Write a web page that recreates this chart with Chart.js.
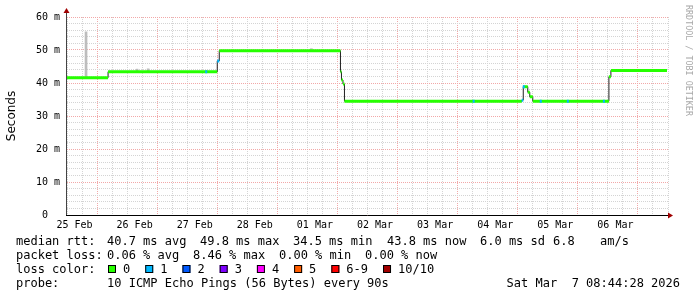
<!DOCTYPE html>
<html>
<head>
<meta charset="utf-8">
<title>smokeping 10 days</title>
<script src="https://cdn.jsdelivr.net/npm/chart.js@4.4.1/dist/chart.umd.min.js"></script>
<style>
    html, body { margin: 0; padding: 0; background: #fff; }
    #wrap { width: 697px; height: 297px; }
</style>
</head>
<body>
<div id="wrap"><canvas id="ping" width="697" height="297"></canvas></div>
<script>
// x values are hours since 25 Feb 00:00, day labels sit at noon
const dayLabels = ['25 Feb', '26 Feb', '27 Feb', '28 Feb', '01 Mar', '02 Mar', '03 Mar', '04 Mar', '05 Mar', '06 Mar'];
const xMin = 9;
const xMax = 249;

// median rtt as steps: hour where a value starts, value in ms, loss count
const stepHours = [9, 25.4, 69.0, 69.8, 118.2, 118.6, 119.2, 119.8, 190.6, 191.2, 193.0, 193.8, 195.0, 225.4, 226.2, 248.6];
const stepMs    = [41.6, 43.4, 46.7, 49.8, 43.4, 40.9, 39.7, 34.5, 34.8, 38.9, 37.2, 35.8, 34.5, 41.9, 43.8, 43.8];
const stepLoss  = [0, 0, 1, 0, 0, 0, 0, 0, 1, 0, 0, 0, 0, 0, 0, 0];

// single samples with 1 lost ping
const spotHours = [64.6, 171.4, 191.4, 198.2, 209.0, 223.4];
const spotMs    = [43.4, 34.5, 38.9, 34.5, 34.5, 34.5];

// smoke (min..max of the pings)
const smokeHours = [16.6, 37.0, 41.4, 106.6];
const smokeLow   = [41.6, 43.4, 43.4, 49.8];
const smokeHigh  = [55.5, 44.2, 44.3, 50.4];

// legend
const lossColors = ['#26ff00', '#00b8ff', '#0059ff', '#7e00ff', '#ff00ff', '#ff5e00', '#ff0000', '#a10000'];
const lossLabels = ['0', '1', '2', '3', '4', '5', '6-9', '10/10'];
const rttStats  = ['40.7 ms avg', '49.8 ms max', '34.5 ms min', '43.8 ms now', '6.0 ms sd', '6.8', 'am/s'];
const lossStats = ['0.06 % avg', '8.46 % max', '0.00 % min', '0.00 % now'];
const probeText = '10 ICMP Echo Pings (56 Bytes) every 90s';
const stampText = 'Sat Mar  7 08:44:28 2026';

const MONO = '"DejaVu Sans Mono", monospace';

// build the loss coloured band for one loss level
function bandData(level) {
    const out = [];
    for (let i = 0; i < stepHours.length - 1; i++) {
        if (stepLoss[i] !== level) continue;
        out.push({ x: stepHours[i], y: stepMs[i] });
        out.push({ x: stepHours[i + 1], y: stepMs[i] });
        out.push({ x: stepHours[i + 1], y: null });
    }
    if (level === 1) {
        spotHours.forEach((h, i) => {
            out.push({ x: h - 0.4, y: spotMs[i] });
            out.push({ x: h + 0.4, y: spotMs[i] });
            out.push({ x: h + 0.4, y: null });
        });
    }
    return out;
}

// draws axes arrows, watermark and the text block below the graph
const decor = {
    id: 'decor',
    afterDraw(chart) {
        const ctx = chart.ctx;
        const a = chart.chartArea;
        ctx.save();

        // axis lines
        ctx.lineWidth = 1;
        ctx.strokeStyle = '#444';
        ctx.beginPath();
        ctx.moveTo(a.left - 0.5, a.bottom);
        ctx.lineTo(a.left - 0.5, 12);
        ctx.stroke();
        ctx.strokeStyle = '#000';
        ctx.beginPath();
        ctx.moveTo(a.left - 1, a.bottom + 0.5);
        ctx.lineTo(a.right + 1, a.bottom + 0.5);
        ctx.stroke();

        // arrows
        ctx.fillStyle = '#a00000';
        ctx.beginPath();
        ctx.moveTo(a.left - 0.5, 8);
        ctx.lineTo(a.left - 3.5, 13);
        ctx.lineTo(a.left + 2.5, 13);
        ctx.closePath();
        ctx.fill();
        ctx.beginPath();
        ctx.moveTo(a.right + 5, a.bottom + 0.5);
        ctx.lineTo(a.right, a.bottom - 2.5);
        ctx.lineTo(a.right, a.bottom + 3.5);
        ctx.closePath();
        ctx.fill();

        // watermark
        ctx.save();
        ctx.translate(688, 5);
        ctx.rotate(Math.PI / 2);
        ctx.font = '8.4px ' + MONO;
        ctx.fillStyle = '#a8a8a8';
        ctx.textAlign = 'left';
        ctx.textBaseline = 'middle';
        ctx.fillText('RRDTOOL / TOBI OETIKER', 0, 0);
        ctx.restore();

        // text rows
        ctx.font = '12px ' + MONO;
        ctx.fillStyle = '#000';
        ctx.textBaseline = 'alphabetic';
        ctx.textAlign = 'left';
        const col = 107;

        ctx.fillText('median rtt:', 16, 245);
        const rttX = [col, 200, 293, 387, 480, 553, 600];
        rttStats.forEach((t, i) => ctx.fillText(t, rttX[i], 245));

        ctx.fillText('packet loss:', 16, 259);
        const lossX = [col, 193, 279, 365];
        lossStats.forEach((t, i) => ctx.fillText(t, lossX[i], 259));

        ctx.fillText('loss color:', 16, 273);
        let x = 108;
        lossLabels.forEach((t, i) => {
            ctx.fillStyle = lossColors[i];
            ctx.fillRect(x, 265, 8, 8);
            ctx.strokeStyle = '#000';
            ctx.strokeRect(x + 0.5, 265.5, 7, 7);
            ctx.fillStyle = '#000';
            ctx.fillText(t, x + 15, 273);
            x += 15 + ctx.measureText(t).width + 15;
        });

        ctx.fillText('probe:', 16, 287);
        ctx.fillText(probeText, col, 287);
        ctx.textAlign = 'right';
        ctx.fillText(stampText, 680, 287);

        ctx.restore();
    }
};

const ctx = document.getElementById('ping').getContext('2d');
const chart = new Chart(ctx, {
    type: 'line',
    data: {
        datasets: [
            {
                label: '1/10',
                data: bandData(1),
                borderColor: lossColors[1],
                borderWidth: 3,
                borderCapStyle: 'butt',
                spanGaps: false,
                pointRadius: 0,
                order: 0
            },
            {
                label: '0/10',
                data: bandData(0),
                borderColor: lossColors[0],
                borderWidth: 3,
                borderCapStyle: 'butt',
                spanGaps: false,
                pointRadius: 0,
                order: 1
            },
            {
                label: 'median',
                data: stepHours.map((h, i) => ({ x: h, y: stepMs[i] })),
                borderColor: '#202020',
                borderWidth: 1,
                stepped: true,
                pointRadius: 0,
                order: 2
            },
            {
                type: 'bar',
                label: 'smoke',
                data: smokeHours.map((h, i) => ({ x: h, y: [smokeLow[i], smokeHigh[i]] })),
                backgroundColor: '#bdbdbd',
                barThickness: 2,
                order: 3
            }
        ]
    },
    options: {
        responsive: false,
        animation: false,
        devicePixelRatio: 1,
        layout: { padding: { left: 0, top: 17, right: 29, bottom: 0 } },
        plugins: {
            legend: { display: false },
            tooltip: { enabled: false }
        },
        scales: {
            x: {
                type: 'linear',
                min: xMin,
                max: xMax,
                offset: false,
                afterFit: s => { s.height = 82; },
                afterBuildTicks: s => {
                    const t = [];
                    for (let h = 12; h < xMax; h += 6) t.push({ value: h });
                    s.ticks = t;
                },
                grid: {
                    drawTicks: false,
                    color: c => (c.tick && c.tick.value % 24 === 0) ? '#f2a8a8' : '#d4d4d4'
                },
                border: { display: false, dash: [1, 1] },
                ticks: {
                    autoSkip: false,
                    maxRotation: 0,
                    padding: 4,
                    color: '#000',
                    font: { family: MONO, size: 10 },
                    callback: v => (v % 24 === 12) ? dayLabels[(v - 12) / 24] : ''
                }
            },
            y: {
                min: 0,
                max: 60,
                afterFit: s => { s.width = 67; },
                grid: {
                    drawTicks: false,
                    color: c => (c.tick && c.tick.value % 10 === 0) ? '#f2a8a8' : '#d4d4d4'
                },
                border: { display: false, dash: [1, 1] },
                title: {
                    display: true,
                    text: 'Seconds',
                    color: '#000',
                    font: { family: '"DejaVu Sans", sans-serif', size: 12 },
                    padding: { top: 5, bottom: 0 }
                },
                ticks: {
                    stepSize: 2,
                    autoSkip: false,
                    padding: 7,
                    color: '#000',
                    font: { family: MONO, size: 10 },
                    callback: v => v % 10 !== 0 ? '' : (v === 0 ? '0  ' : v + ' m')
                }
            }
        }
    },
    plugins: [decor]
});
</script>
</body>
</html>
